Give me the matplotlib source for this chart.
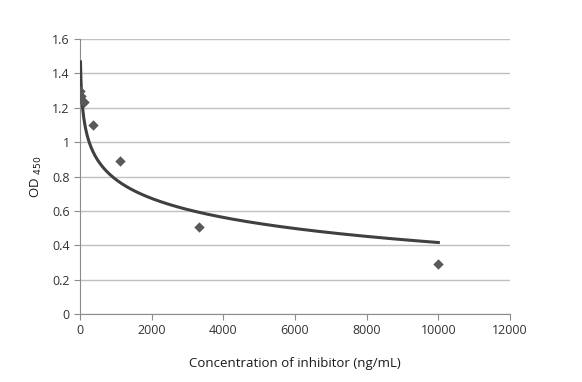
import numpy as np
import matplotlib
matplotlib.use("Agg")
import matplotlib.pyplot as plt

conc = [13.7, 41, 123, 370, 1111, 3333, 10000]
od = [1.30, 1.27, 1.235, 1.10, 0.89, 0.505, 0.29]
xticks = [0, 2000, 4000, 6000, 8000, 10000, 12000]
yticks = [0, 0.2, 0.4, 0.6, 0.8, 1, 1.2, 1.4, 1.6]

plt.rcParams['font.family'] = ['Open Sans', 'DejaVu Sans']

fig = plt.figure(figsize=(5.82, 3.82), dpi=100)
ax = fig.add_axes([80/582, 1-314/382, 430/582, 275/382])

a, b = np.polyfit(np.log(conc), od, 1)
xs = np.linspace(min(conc), max(conc), 2000)
ax.plot(xs, a*np.log(xs)+b, color='#404040', lw=2.2, zorder=3)
ax.scatter(conc, od, marker='D', s=28, color='#595959', zorder=4, linewidths=0)

ax.set_xlim(0, 12000)
ax.set_ylim(0, 1.6)
ax.set_xticks(xticks)
ax.set_yticks(yticks)
ax.set_yticklabels(['0', '0.2', '0.4', '0.6', '0.8', '1', '1.2', '1.4', '1.6'])
ax.grid(axis='y', color='#c0c0c0', lw=1)
ax.set_axisbelow(True)
for s in ['top', 'right']:
    ax.spines[s].set_visible(False)
for s in ['left', 'bottom']:
    ax.spines[s].set_color('#8c8c8c')
ax.tick_params(axis='both', colors='#8c8c8c', labelcolor='#333333', labelsize=9, length=4, direction='out')
ax.set_xlabel('Concentration of inhibitor (ng/mL)', fontsize=9.5, color='#1a1a1a', labelpad=14)
ax.set_ylabel('OD $_{450}$', fontsize=9.5, color='#1a1a1a', labelpad=6)

fig.savefig('out.png', dpi=100)
